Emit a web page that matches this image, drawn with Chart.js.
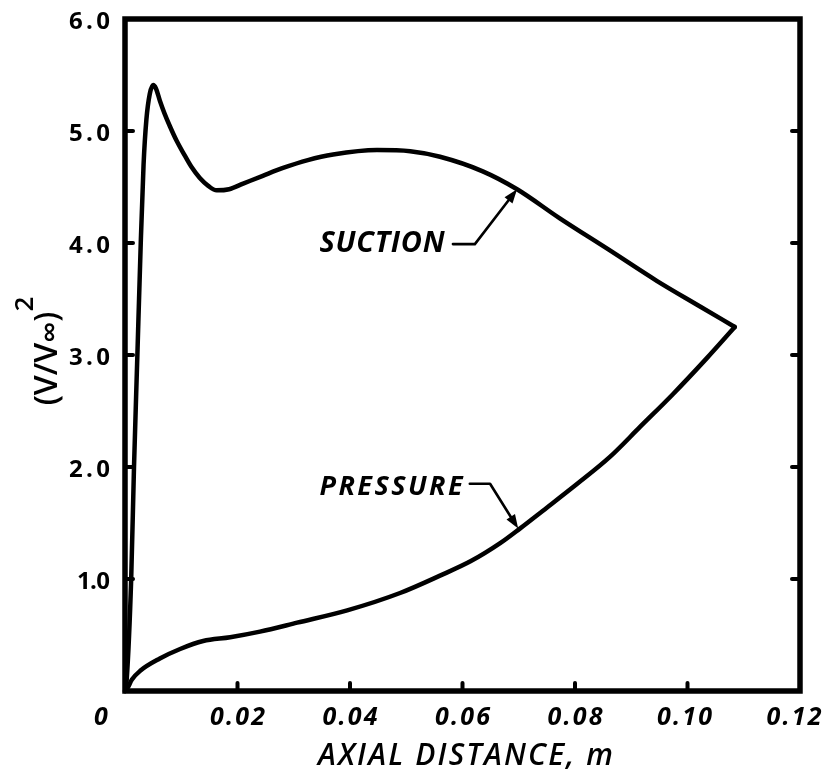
<!DOCTYPE html>
<html>
<head>
<meta charset="utf-8">
<script src="https://cdn.jsdelivr.net/npm/chart.js@4/dist/chart.umd.min.js"></script>
<style>
  html, body { margin: 0; padding: 0; background: #fff; }
  #wrap { width: 828px; height: 775px; }
</style>
</head>
<body>
<div id="wrap"><canvas id="c" width="828" height="775"></canvas></div>
<script>
// Squared velocity ratio along the blade surfaces vs axial distance (m)
const suctionX = [0, 0.0003, 0.0011, 0.0016, 0.0022, 0.0028, 0.0033, 0.0038, 0.0044, 0.0050,
  0.0055, 0.0062, 0.0070, 0.0080, 0.0092, 0.0103, 0.0118, 0.0133, 0.0148, 0.0163, 0.0185, 0.0210,
  0.0245, 0.0281, 0.0325, 0.0370, 0.0448, 0.0507, 0.0560, 0.0636, 0.0697, 0.0773, 0.0860,
  0.0946, 0.1020, 0.1084];
const suctionY = [0, 0.10, 1.00, 2.00, 3.00, 4.00, 4.70, 5.10, 5.33, 5.41,
  5.38, 5.27, 5.16, 5.04, 4.91, 4.81, 4.68, 4.58, 4.51, 4.47, 4.48, 4.53,
  4.60, 4.67, 4.74, 4.79, 4.83, 4.82, 4.77, 4.64, 4.48, 4.22, 3.94,
  3.66, 3.44, 3.25];

const pressureX = [0, 0.0005, 0.0012, 0.0027, 0.0062, 0.0098, 0.0139, 0.0187, 0.0240, 0.0306, 0.0395,
  0.0489, 0.0560, 0.0615, 0.0667, 0.0702, 0.0743, 0.0804, 0.0862, 0.0916, 0.0974, 0.1034, 0.1084];
const pressureY = [0, 0.03, 0.10, 0.18, 0.29, 0.375, 0.446, 0.48, 0.53, 0.61, 0.72,
  0.875, 1.03, 1.16, 1.32, 1.45, 1.61, 1.85, 2.09, 2.36, 2.65, 2.97, 3.25];

// Axis ticks
const xTickValues = [0, 0.02, 0.04, 0.06, 0.08, 0.10, 0.12];
const xTickLabels = ['0', '0.02', '0.04', '0.06', '0.08', '0.10', '0.12'];
const yTickValues = [1, 2, 3, 4, 5, 6];
const yTickLabels = ['1.0', '2.0', '3.0', '4.0', '5.0', '6.0'];

// Curve labels: text anchor, leader start, leader elbow, arrow tip (data units)
const suctionNote = { text: 'SUCTION', at: [0.0457, 4.01], from: [0.0583, 3.99], elbow: [0.0622, 3.99], tip: [0.0697, 4.48] };
const pressureNote = { text: 'PRESSURE', at: [0.0473, 1.835], from: [0.0613, 1.85], elbow: [0.0649, 1.85], tip: [0.0699, 1.45] };

const toPoints = (xs, ys) => xs.map((x, i) => ({ x: x, y: ys[i] }));

const FAMILY = "'Open Sans', 'DejaVu Sans', sans-serif";

// Draws text spread to a given width (letter spacing adjusted), vertically centred on cap height
function spreadText(ctx, text, cx, cy, size, width, italic, align, weight) {
  ctx.font = (italic ? 'italic ' : '') + (weight || 700) + ' ' + size + 'px ' + FAMILY;
  ctx.letterSpacing = '0px';
  const w = ctx.measureText(text).width;
  let ls = text.length > 1 ? (width - w) / (text.length - 1) : 0;
  if (ls < -3) ls = -3;
  ctx.letterSpacing = ls + 'px';
  const total = w + ls * (text.length - 1);
  let x0 = cx - total / 2;
  if (align === 'right') x0 = cx - total;
  ctx.textAlign = 'left';
  ctx.textBaseline = 'alphabetic';
  ctx.fillText(text, x0, cy + size * 0.357);
  ctx.letterSpacing = '0px';
}

function drawNote(ctx, xs, ys, note, width, size) {
  const px = v => xs.getPixelForValue(v[0]);
  const py = v => ys.getPixelForValue(v[1]);
  ctx.fillStyle = '#000';
  spreadText(ctx, note.text, px(note.at), py(note.at), size, width, true, 'center');
  const ax = px(note.from), ay = py(note.from);
  const ex = px(note.elbow), ey = py(note.elbow);
  const tx = px(note.tip), ty = py(note.tip);
  ctx.strokeStyle = '#000';
  ctx.lineWidth = 2.6;
  ctx.lineCap = 'round';
  ctx.lineJoin = 'round';
  const ang = Math.atan2(ty - ey, tx - ex);
  const headLen = 14, headW = 5;
  ctx.beginPath();
  ctx.moveTo(ax, ay);
  ctx.lineTo(ex, ey);
  ctx.lineTo(tx - Math.cos(ang) * (headLen - 2), ty - Math.sin(ang) * (headLen - 2));
  ctx.stroke();
  ctx.beginPath();
  ctx.moveTo(tx, ty);
  ctx.lineTo(tx - Math.cos(ang) * headLen - Math.sin(ang) * headW, ty - Math.sin(ang) * headLen + Math.cos(ang) * headW);
  ctx.lineTo(tx - Math.cos(ang) * headLen + Math.sin(ang) * headW, ty - Math.sin(ang) * headLen - Math.cos(ang) * headW);
  ctx.closePath();
  ctx.fill();
}

const framePlugin = {
  id: 'frame',
  beforeDatasetsDraw(chart) {
    const { ctx, chartArea: a, scales } = chart;
    const xs = scales.x, ys = scales.y;
    ctx.save();
    ctx.strokeStyle = '#000';
    ctx.fillStyle = '#000';
    // plot frame
    ctx.lineWidth = 5.5;
    ctx.lineJoin = 'miter';
    ctx.strokeRect(a.left, a.top, a.right - a.left, a.bottom - a.top);
    // inward tick marks
    ctx.lineWidth = 4;
    ctx.lineCap = 'round';
    yTickValues.forEach(v => {
      if (v >= 6) return;
      const y = ys.getPixelForValue(v);
      ctx.beginPath(); ctx.moveTo(a.left, y); ctx.lineTo(a.left + 8, y); ctx.stroke();
      ctx.beginPath(); ctx.moveTo(a.right, y); ctx.lineTo(a.right - 8, y); ctx.stroke();
    });
    xTickValues.forEach(v => {
      if (v <= 0 || v >= 0.12) return;
      const x = xs.getPixelForValue(v);
      ctx.beginPath(); ctx.moveTo(x, a.bottom); ctx.lineTo(x, a.bottom - 8); ctx.stroke();
    });
    ctx.restore();
  },
  afterDraw(chart) {
    const { ctx, chartArea: a, scales } = chart;
    const xs = scales.x, ys = scales.y;
    ctx.save();
    ctx.fillStyle = '#000';
    // y tick labels
    yTickValues.forEach((v, i) => {
      spreadText(ctx, yTickLabels[i], a.left - 15, ys.getPixelForValue(v) + 1, 24, yTickLabels[i] === '1.0' ? 33 : 41, false, 'right');
    });
    // x tick labels
    xTickValues.forEach((v, i) => {
      const lab = xTickLabels[i];
      let cx = xs.getPixelForValue(v);
      if (v === 0) cx -= 24;
      if (v >= 0.12) cx -= 6;
      if (Math.abs(v - 0.10) < 1e-9) cx -= 3;
      spreadText(ctx, lab, cx, a.bottom + 25, 25, lab.length === 1 ? 16 : 55, true, 'center');
    });
    // x axis title
    spreadText(ctx, 'AXIAL DISTANCE, m', (318 + 613) / 2, a.bottom + 63, 30, 295, true, 'center', 600);

    // y axis title: (V/V∞)² drawn rotated, reading upward
    const parts = [
      { t: '(V/V', s: 32, dy: 0 },
      { t: '\u221E', s: 30, dy: 3 },
      { t: ')', s: 32, dy: 0 },
      { t: '2', s: 26, dy: -24 }
    ];
    let total = 0;
    parts.forEach(p => { ctx.font = '600 ' + p.s + 'px ' + FAMILY; p.w = ctx.measureText(p.t).width; total += p.w; });
    const midY = 351;
    ctx.translate(57, midY + total / 2);
    ctx.rotate(-Math.PI / 2);
    ctx.textAlign = 'left';
    ctx.textBaseline = 'alphabetic';
    let x = 0;
    parts.forEach(p => {
      ctx.font = '600 ' + p.s + 'px ' + FAMILY;
      ctx.fillText(p.t, x, p.dy);
      x += p.w;
    });
    ctx.restore();

    // curve labels with leader arrows
    ctx.save();
    drawNote(ctx, xs, ys, suctionNote, 125, 29);
    drawNote(ctx, xs, ys, pressureNote, 143, 27);
    ctx.restore();
  }
};

new Chart(document.getElementById('c'), {
  type: 'scatter',
  data: {
    datasets: [
      {
        label: 'SUCTION',
        data: toPoints(suctionX, suctionY),
        showLine: true,
        borderColor: '#000',
        borderWidth: 4.5,
        pointRadius: 0,
        cubicInterpolationMode: 'monotone',
        borderCapStyle: 'round',
        borderJoinStyle: 'round',
        clip: false
      },
      {
        label: 'PRESSURE',
        data: toPoints(pressureX, pressureY),
        showLine: true,
        borderColor: '#000',
        borderWidth: 4.5,
        pointRadius: 0,
        cubicInterpolationMode: 'monotone',
        borderCapStyle: 'round',
        borderJoinStyle: 'round',
        clip: false
      }
    ]
  },
  options: {
    responsive: false,
    animation: false,
    layout: { padding: { left: 125, top: 19, right: 28, bottom: 84 } },
    plugins: { legend: { display: false }, tooltip: { enabled: false } },
    scales: {
      x: { type: 'linear', min: 0, max: 0.12, display: false },
      y: { type: 'linear', min: 0, max: 6, display: false }
    }
  },
  plugins: [framePlugin]
});
</script>
</body>
</html>
